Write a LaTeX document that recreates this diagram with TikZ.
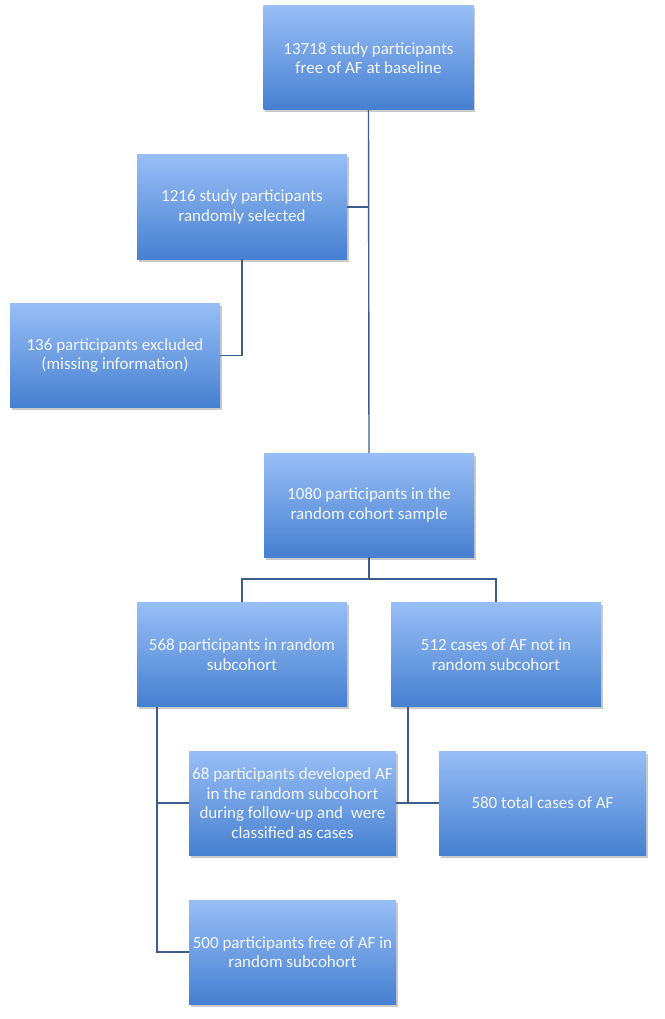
\documentclass[tikz,border=0pt]{standalone}
\usepackage{fontspec}
\setmainfont{Carlito}
\usetikzlibrary{shadows}
\definecolor{boxtop}{RGB}{152,190,246}
\definecolor{boxbot}{RGB}{70,128,208}
\definecolor{linec}{RGB}{62,92,140}
\definecolor{txt}{RGB}{244,247,252}
\tikzset{
  flowbox/.style={rectangle, minimum width=210pt, minimum height=104pt, inner sep=0pt,
    top color=boxtop, bottom color=boxbot, align=center, text=txt,
    font=\fontsize{17}{19.5}\selectfont,
    drop shadow={shadow xshift=1.5pt, shadow yshift=-2.5pt, opacity=0.35, fill=black!60}},
  narrowbox/.style={flowbox, minimum width=207pt},
  conn/.style={draw=linec, line width=1.4pt}
}
\begin{document}
\begin{tikzpicture}[x=1pt,y=-1pt]
\useasboundingbox (0,0) rectangle (664,1019);
\node[flowbox] (b1) at (368.5,58) {13718 study participants\\free of AF at baseline};
\node[flowbox] (b2) at (242,207) {1216 study participants\\randomly selected};
\node[flowbox] (b3) at (115,355.5) {136 participants excluded\\(missing information)};
\node[flowbox] (b4) at (369,505) {1080 participants in the\\random cohort sample};
\node[flowbox] (b5) at (242,654.5) {568 participants in random\\subcohort};
\node[flowbox] (b6) at (496,654.5) {512 cases of AF not in\\random subcohort};
\node[narrowbox] (b7) at (292.5,803) {68 participants developed AF\\in the random subcohort\\during follow-up and~ were\\classified as cases};
\node[narrowbox] (b8) at (542.5,803) {580 total cases of AF};
\node[narrowbox] (b9) at (292.5,952) {500 participants free of AF in\\random subcohort};
\coordinate (j) at (369,579);
\coordinate (l1) at (157,707);
\coordinate (r1) at (408,707);
\draw[conn] (b1.south) -- (b4.north);
\draw[conn] (b2.east) -- (b1.south |- b2.east);
\draw[conn] (b2.south) |- (b3.east);
\draw[conn] (b4.south) -- (j);
\draw[conn] (b5.north) |- (j) -| (b6.north);
\draw[conn] (l1) |- (b7.west);
\draw[conn] (l1) |- (b9.west);
\draw[conn] (r1) |- (b8.west);
\draw[conn] (b7.east) -- (b8.west);
\end{tikzpicture}
\end{document}
